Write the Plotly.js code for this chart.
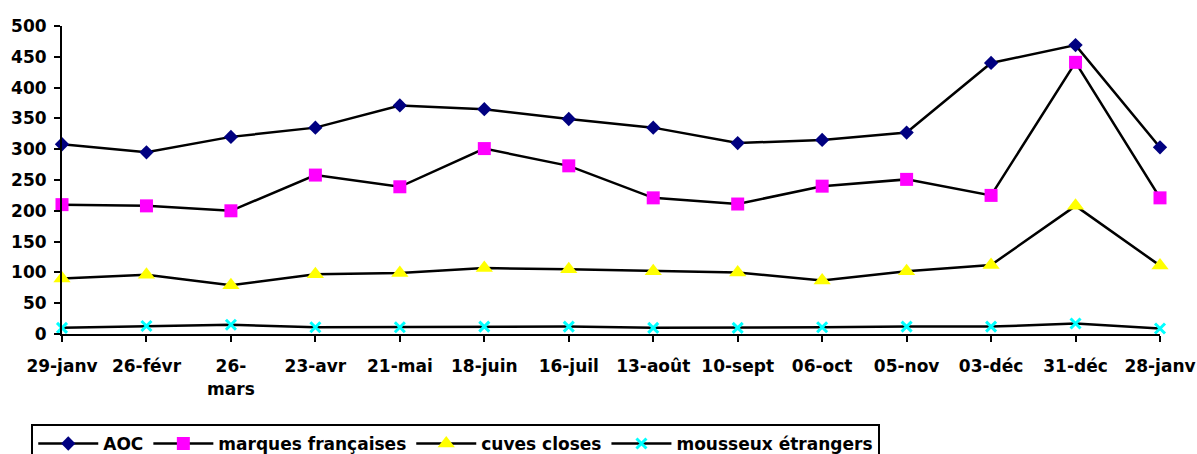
<!DOCTYPE html>
<html>
<head>
<meta charset="utf-8">
<script src="https://cdn.plot.ly/plotly-3.0.1.min.js"></script>
<style>html,body{margin:0;padding:0;background:#fff;}#chart{width:1197px;height:454px;}</style>
</head>
<body>
<div id="chart"></div>
<script>
const categories = ["29-janv","26-févr","26-<br>mars","23-avr","21-mai","18-juin","16-juil","13-août","10-sept","06-oct","05-nov","03-déc","31-déc","28-janv"];
const aoc = [308,295,320,335,371,365,349,335,310,315,327,440,469,303];
const marquesFrancaises = [210,208,200,258,239,301,273,221,211,240,251,225,441,221];
const cuvesCloses = [90,96,79,97,99,107,105,102,100,87,102,112,208,111];
const mousseuxEtrangers = [10,13,15,11,11,12,12,10,10,11,12,12,17,9];
const yTicks = [0,50,100,150,200,250,300,350,400,450,500];

const idx = categories.map((_, i) => i);
const FONT = "DejaVu Sans, Liberation Sans, Arial, sans-serif";
const FS = 17;

function series(name, y, marker) {
  return {type: "scatter", mode: "lines+markers", name: name, x: idx, y: y,
    line: {color: "#000000", width: 2.5}, marker: marker, cliponaxis: false};
}

const data = [
  series("AOC", aoc, {symbol: "diamond", size: 11, color: "#000080"}),
  series("marques françaises", marquesFrancaises, {symbol: "square", size: 13, color: "#FF00FF"}),
  series("cuves closes", cuvesCloses, {symbol: "triangle-up", size: 15, color: "#FFFF00"}),
  series("mousseux étrangers", mousseuxEtrangers, {symbol: "x-thin-open", size: 10, color: "#00FFFF", line: {color: "#00FFFF", width: 3}})
];

const layout = {
  width: 1197, height: 454,
  paper_bgcolor: "#ffffff", plot_bgcolor: "#ffffff",
  margin: {l: 62, r: 37, t: 26, b: 120, autoexpand: false},
  font: {family: FONT, size: FS, color: "#000000", weight: "bold"},
  showlegend: true,
  legend: {orientation: "h", x: -0.028, xanchor: "left", y: -0.292, yanchor: "top",
    bordercolor: "#000000", borderwidth: 2, bgcolor: "#ffffff",
    font: {family: FONT, size: FS, color: "#000000", weight: "bold"}, itemwidth: 60, tracegroupgap: 0},
  xaxis: {range: [0, 13], tickmode: "array", tickvals: idx, ticktext: categories,
    showgrid: false, zeroline: false, showline: true, linecolor: "#000000", linewidth: 2,
    ticks: "outside", ticklen: 6, tickwidth: 2, tickcolor: "#000000", tickangle: 0,
    ticklabelstandoff: 10,
    tickfont: {family: FONT, size: FS, color: "#000000", weight: "bold"}, fixedrange: true},
  yaxis: {range: [0, 500], tickmode: "array", tickvals: yTicks,
    showgrid: false, zeroline: false, showline: true, linecolor: "#000000", linewidth: 2,
    ticks: "outside", ticklen: 6, tickwidth: 2, tickcolor: "#000000",
    ticklabelstandoff: 4,
    tickfont: {family: FONT, size: FS, color: "#000000", weight: "bold"}, fixedrange: true}
};

Plotly.newPlot("chart", data, layout, {displayModeBar: false, staticPlot: true});
</script>
</body>
</html>
